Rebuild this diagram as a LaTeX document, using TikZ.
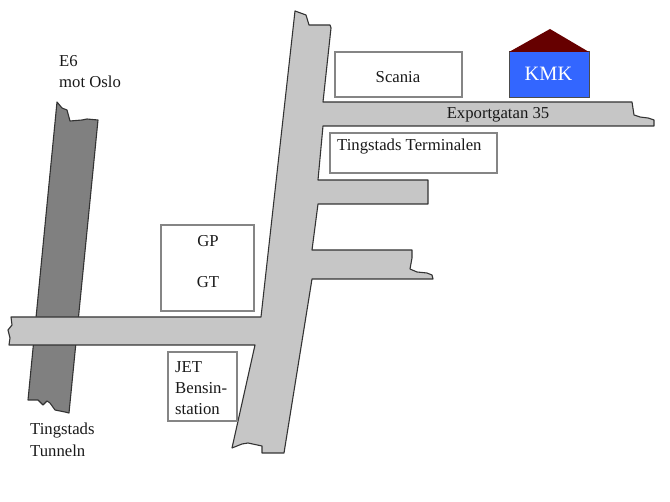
\documentclass[tikz,border=0pt]{standalone}
\usepackage{fontspec}
\setmainfont{Liberation Serif}
\tikzset{
  road/.style={draw=black!80,fill=roadgrey,line width=1.1pt,line join=round},
  tunnel/.style={draw=black!80,fill=tunnelgrey,line width=1.1pt,line join=round},
  place/.style={draw=boxgrey,fill=white,line width=1.05pt},
  lbl/.style={font=\fontsize{16.7}{20}\selectfont,inner sep=0pt,text=black!90},
}
\definecolor{roadgrey}{HTML}{C6C6C6}
\definecolor{tunnelgrey}{HTML}{808080}
\definecolor{boxgrey}{HTML}{858585}
\definecolor{roof}{HTML}{660000}
\definecolor{kmkblue}{HTML}{3366FF}
\begin{document}
\begin{tikzpicture}[x=1pt,y=-1pt]
\useasboundingbox (0,0) rectangle (670,502);
% E6 road
\draw[tunnel] (57,102) -- (62,108) -- (67,110) -- (70,121) -- (82,120) -- (87,119) -- (98,120)
  -- (69,413) -- (65,412) -- (55,410) -- (50,403) -- (47,401) -- (43,405) -- (38,400) -- (28,400) -- cycle;
% main roads
\draw[road] (295,11) -- (306,15) -- (309,25) -- (320,25) -- (330,25) -- (331,28)
  -- (323,102) -- (632,102) -- (634,115) -- (640,117) -- (648,118) -- (654,120) -- (654,126)
  -- (323,126) -- (318,180) -- (428,180) -- (428,204) -- (318,204)
  -- (312,250) -- (412,250) -- (412,258) -- (410,269) -- (417,272) -- (427,273) -- (432,275) -- (433,279)
  -- (312,279) -- (284,453) -- (262,453) -- (262,446) -- (248,443) -- (242,444) -- (232,448)
  -- (255,345) -- (9,345) -- (10,338) -- (8,330) -- (12,325) -- (11,317) -- (261,317) -- cycle;
% boxes
\draw[place] (335,52) rectangle (462,97);
\draw[place] (330,133) rectangle (497,173);
\draw[place] (161,225) rectangle (254,311);
\draw[place] (168,352) rectangle (237,421);
% KMK house
\draw[draw=black!70,fill=kmkblue,line width=1pt] (509,52) rectangle (589,98);
\fill[roof] (509,52) -- (550,29) -- (589,52) -- cycle;
% labels
\node[lbl] (scania) at (398,77) {Scania};
\node[lbl,anchor=west] (terminal) at (337,147) {Tingstads Terminalen};
\node[lbl] (export) at (498,115) {Exportgatan 35};
\node[lbl,text=white,font=\fontsize{20.4}{24}\selectfont] (kmk) at (548.5,74) {KMK};
\node[lbl] (gp) at (208,241) {GP};
\node[lbl] (gt) at (208,282) {GT};
\node[lbl,anchor=west] (jet) at (175,367) {JET};
\node[lbl,anchor=west] (bensin) at (175,388) {Bensin-};
\node[lbl,anchor=west] (station) at (175,409) {station};
\node[lbl,anchor=west] (e6) at (59,61) {E6};
\node[lbl,anchor=west] (oslo) at (59,82) {mot Oslo};
\node[lbl,anchor=west] (ting) at (30,431) {Tingstads};
\node[lbl,anchor=west] (tunn) at (30,451) {Tunneln};
\end{tikzpicture}
\end{document}
